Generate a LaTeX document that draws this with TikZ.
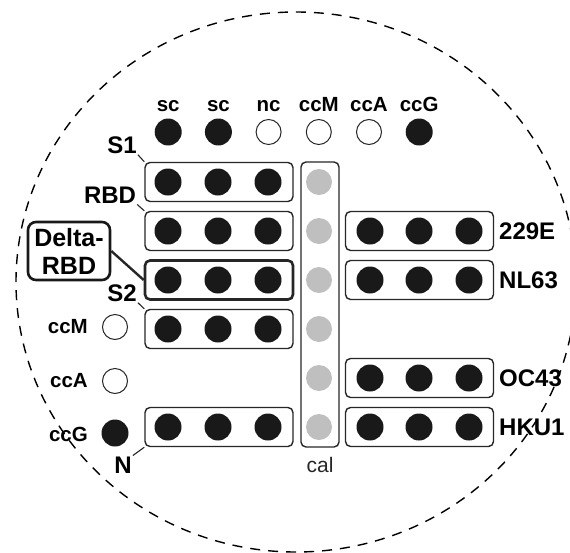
\documentclass[tikz,border=0pt]{standalone}
\usepackage{fontspec}
\setmainfont{Liberation Sans}

\begin{document}
\begin{tikzpicture}[x=1pt,y=-1pt,
  dot/.style={circle,fill=black!90,minimum size=27pt,inner sep=0pt},
  opendot/.style={circle,draw=black!85,line width=1pt,minimum size=25pt,inner sep=0pt},
  caldot/.style={circle,fill=black!25,minimum size=26pt,inner sep=0pt},
  rowbox/.style={draw=black!85,line width=1.4pt,rounded corners=5pt,minimum width=148pt,minimum height=39pt,inner sep=0pt},
  boxlabel/.style={font=\bfseries\fontsize{24}{28}\selectfont,inner sep=1pt},
  toptext/.style={font=\bfseries\fontsize{20.5}{23}\selectfont,inner sep=1pt},
  leader/.style={draw=black!85,line width=1.1pt}]
  \useasboundingbox (0,0) rectangle (570,552);
  % dashed outline of the well
  \draw[dash pattern=on 10pt off 8pt,line width=1.4pt] (296,282) ellipse [x radius=280,y radius=270];
  % top row of controls
  \foreach \t/\s [count=\i] in {sc/dot,sc/dot,nc/opendot,ccM/opendot,ccA/opendot,ccG/dot} {
    \node[\s] (top\i) at ({118+50.2*\i},132) {};
    \node[toptext,anchor=base] (toplab\i) at ({118+50.2*\i},111) {\t};
  }
  % left antigen rows
  \foreach \n/\y/\w in {s1/182/1.4pt,rbd/231/1.4pt,delta/280/2.6pt,s2/329/1.4pt,n/427/1.4pt} {
    \node[rowbox,line width=\w] (\n) at (219,\y) {};
    \foreach \x [count=\k] in {168,218,268}
      \node[dot] (\n\k) at (\x,\y) {};
  }
  % right antigen rows
  \foreach \n/\y/\t in {e229/231/229E,nl63/280/NL63,oc43/378/OC43,hku1/427/HKU1} {
    \node[rowbox] (\n) at (419.5,\y) {};
    \foreach \x [count=\k] in {370,419,469}
      \node[dot] (\n\k) at (\x,\y) {};
    \node[boxlabel,anchor=west] (\n lab) at (498,\y) {\t};
  }
  % calibration column
  \node[rowbox,minimum width=38pt,minimum height=285pt] (cal) at (320,304.5) {};
  \foreach \y [count=\k] in {182,231,280,329,378,427}
    \node[caldot] (cal\k) at (319,\y) {};
  \node[font=\fontsize{21}{24}\selectfont,text=black!85] (callab) at (320,465) {cal};
  % left controls
  \node[opendot] (ccm) at (115,327) {};
  \node[opendot] (cca) at (115,381) {};
  \node[dot] (ccg) at (115,433) {};
  \node[toptext,anchor=east] (ccmlab) at (89,327) {ccM};
  \node[toptext,anchor=east] (ccalab) at (89,381) {ccA};
  \node[toptext,anchor=east] (ccglab) at (89,434) {ccG};
  % row labels
  \node[boxlabel] (s1lab) at (122,145) {S1};
  \node[boxlabel] (rbdlab) at (110,195) {RBD};
  \node[boxlabel] (s2lab) at (122,293) {S2};
  \node[boxlabel] (nlab) at (123,465) {N};
  \node[boxlabel,font=\bfseries\fontsize{25}{28}\selectfont,draw=black!90,line width=2.6pt,
        rounded corners=8pt,align=center,inner sep=0pt,minimum width=82pt,minimum height=58pt] (deltalab) at (69,251) {Delta-\\RBD};
  \draw[leader] (s1lab.south east) -- (s1.north west);
  \draw[leader] (rbdlab.south east) -- (rbd.north west);
  \draw[leader] (s2lab.south east) -- (s2.north west);
  \draw[leader] (nlab.north east) -- (n.south west);
  \draw[leader,line width=2.4pt] (deltalab.east) -- (delta.west);
\end{tikzpicture}
\end{document}
